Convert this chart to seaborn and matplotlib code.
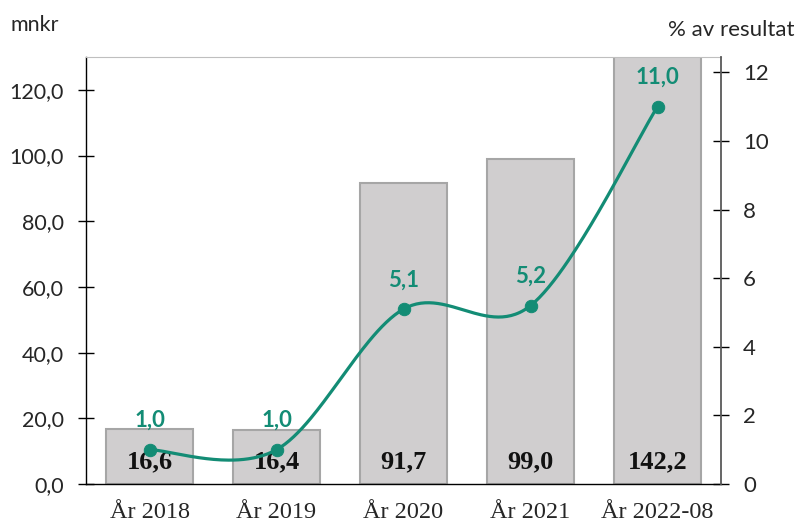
import numpy as np
import pandas as pd
import seaborn as sns
import matplotlib.pyplot as plt
from matplotlib.ticker import FixedLocator

# data
kategorier = ['År 2018', 'År 2019', 'År 2020', 'År 2021', 'År 2022-08']
mnkr = [16.6, 16.4, 91.7, 99.0, 142.2]
andel = [1.0, 1.0, 5.1, 5.2, 11.0]

teal = '#138C75'
bar_fill = '#D0CECF'
bar_edge = '#A6A6A6'
serif = ['Liberation Serif', 'DejaVu Serif']

sns.set_style('white')
plt.rcParams['font.family'] = ['Lato', 'DejaVu Sans']

df = pd.DataFrame({'kategori': kategorier, 'mnkr': mnkr, 'andel': andel})

fig = plt.figure(figsize=(7.97, 5.24), dpi=100)
ax = fig.add_axes([86 / 797, 40 / 524, 635 / 797, 427 / 524])

sns.barplot(data=df, x='kategori', y='mnkr', color=bar_fill, edgecolor=bar_edge,
            linewidth=1.5, width=0.69, saturation=1, ax=ax)
ax.set_xlim(-0.5, 4.5)
ax.set_ylim(0, 130)
ax.set_xlabel('')
ax.set_ylabel('')

# bar value labels at the foot of each bar
for i, v in enumerate(df['mnkr']):
    ax.text(i, 6.7, f'{v:.1f}'.replace('.', ','), ha='center', va='center',
            fontsize=19, fontweight='bold', family=serif, color='#111111')

ax.set_yticks(np.arange(0, 121, 20))
ax.set_yticklabels([f'{t:.1f}'.replace('.', ',') for t in np.arange(0, 121, 20)], fontsize=15.5)
ax.tick_params(axis='y', direction='inout', length=12, width=1, color='black', pad=10)
ax.set_xticks(range(len(kategorier)))
ax.set_xticklabels(kategorier, fontsize=17.5, family=serif)
ax.tick_params(axis='x', which='major', length=0, pad=13)
ax.xaxis.set_minor_locator(FixedLocator(np.arange(-0.5, 4.6, 1)))
ax.tick_params(axis='x', which='minor', direction='inout', length=12, width=1, color='black')

for side in ['left', 'bottom']:
    ax.spines[side].set_color('black')
    ax.spines[side].set_linewidth(1.0)
ax.spines['top'].set_color('#BFBFBF')
ax.spines['right'].set_visible(False)

# secondary axis with smoothed line
ax2 = ax.twinx()
ax2.set_ylim(0, 12.45)
x = np.arange(len(andel), dtype=float)
y = np.array(andel)
px = np.concatenate([[x[0]], x, [x[-1]]])
py = np.concatenate([[y[0]], y, [y[-1]]])
cx, cy = [], []
t = np.linspace(0, 1, 60)
for i in range(len(x) - 1):
    p0 = np.array([px[i + 1], py[i + 1]])
    p3 = np.array([px[i + 2], py[i + 2]])
    c1 = p0 + (p3 - np.array([px[i], py[i]])) / 6
    c2 = p3 - (np.array([px[i + 3], py[i + 3]]) - p0) / 6
    b = ((1 - t) ** 3)[:, None] * p0 + (3 * (1 - t) ** 2 * t)[:, None] * c1 \
        + (3 * (1 - t) * t ** 2)[:, None] * c2 + (t ** 3)[:, None] * p3
    cx.extend(b[:, 0])
    cy.extend(b[:, 1])
ax2.plot(cx, cy, color=teal, linewidth=2.3, zorder=3)
sns.scatterplot(x=x, y=y, color=teal, s=80, edgecolor=teal, ax=ax2, zorder=4)

for i, v in enumerate(andel):
    ax2.annotate(f'{v:.1f}'.replace('.', ','), (x[i], v), xytext=(0, 21),
                 textcoords='offset points', ha='center', va='center',
                 fontsize=16, fontweight='bold', color=teal)

ax2.set_yticks(np.arange(0, 13, 2))
ax2.set_yticklabels([str(t) for t in range(0, 13, 2)], fontsize=16)
ax2.tick_params(axis='y', direction='inout', length=12, width=1, color='black', pad=10)
ax2.spines['right'].set_color('#595959')
ax2.spines['right'].set_linewidth(1.3)
for side in ['left', 'bottom', 'top']:
    ax2.spines[side].set_visible(False)

fig.text(10 / 797, 1 - 25 / 524, 'mnkr', fontsize=15.5, va='center', ha='left')
fig.text(795 / 797, 1 - 30 / 524, '% av resultat', fontsize=16, va='center', ha='right')

fig.savefig('out.png', dpi=100)
